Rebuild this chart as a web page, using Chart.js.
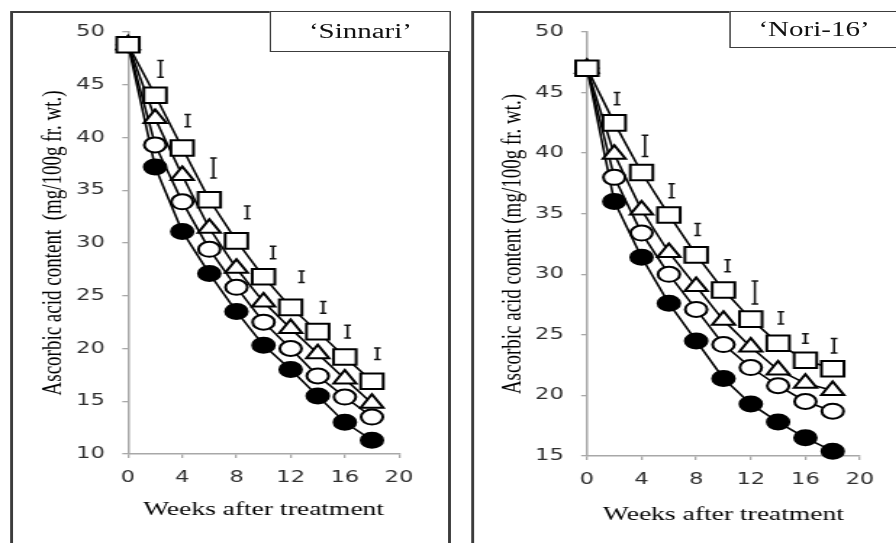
<!DOCTYPE html>
<html>
<head>
<meta charset="utf-8">
<script src="https://cdn.jsdelivr.net/npm/chart.js@4"></script>
<style>
  body { margin: 0; background: #fff; width: 896px; height: 543px; overflow: hidden; }
  #stage { position: absolute; left: 0; top: 0; width: 618px; height: 543px;
           transform: scaleX(1.45); transform-origin: 0 0; }
  .panel { position: absolute; top: 11px; height: 600px; border: 2px solid #3c3c3c; box-sizing: border-box; }
  .tag { position: absolute; top: 11px; border: 1.5px solid #3c3c3c; box-sizing: border-box; background: #fff;
         font: 20px "Liberation Serif", serif; color: #111; text-align: center; }
  canvas { position: absolute; top: 0; }
</style>
</head>
<body>
<div id="stage">
  <div class="panel" style="left:6.9px;width:304.1px"></div>
  <div class="panel" style="left:324.8px;width:400px"></div>
  <div class="tag" style="left:186.2px;width:124.8px;height:41px;line-height:39px">‘Sinnari’</div>
  <div class="tag" style="left:503.4px;width:116px;height:37px;line-height:35px">‘Nori-16’</div>
  <canvas id="left" width="318" height="543" style="left:0;width:318px;height:543px"></canvas>
  <canvas id="right" width="300" height="543" style="left:318px;width:300px;height:543px"></canvas>
</div>
<script>
// weeks after treatment
let weeks = [0, 2, 4, 6, 8, 10, 12, 14, 16, 18]
let xTicks = [0, 4, 8, 12, 16, 20]

// 'Sinnari'
let sinSquare   = [48.8, 44.0, 39.0, 34.1, 30.2, 26.8, 23.9, 21.6, 19.2, 16.9]
let sinTriangle = [48.8, 41.8, 36.4, 31.4, 27.6, 24.4, 21.9, 19.5, 17.1, 14.8]
let sinCircle   = [48.8, 39.3, 33.9, 29.4, 25.8, 22.5, 20.0, 17.4, 15.4, 13.5]
let sinFilled   = [48.8, 37.2, 31.1, 27.1, 23.5, 20.3, 18.0, 15.5, 13.0, 11.3]
let sinLsdX = [2.4, 4.4, 6.3, 8.8, 10.7, 12.8, 14.4, 16.2, 18.4]
let sinLsdY = [46.5, 41.6, 37.1, 32.9, 29.1, 26.8, 23.9, 21.6, 19.5]
let sinLsdH = [1.6, 1.15, 1.9, 1.2, 1.2, 1.1, 1.1, 1.2, 1.1]
let sinYTicks = [10, 15, 20, 25, 30, 35, 40, 45, 50]

// 'Nori-16'
let noriSquare   = [47.0, 42.5, 38.4, 34.9, 31.6, 28.7, 26.3, 24.3, 22.9, 22.2]
let noriTriangle = [47.0, 39.9, 35.3, 31.8, 29.0, 26.2, 24.0, 22.1, 21.0, 20.4]
let noriCircle   = [47.0, 38.0, 33.4, 30.0, 27.1, 24.2, 22.3, 20.8, 19.5, 18.7]
let noriFilled   = [47.0, 36.0, 31.4, 27.6, 24.5, 21.4, 19.3, 17.8, 16.5, 15.4]
let noriLsdX = [2.2, 4.25, 6.2, 8.1, 10.3, 12.3, 14.2, 16.0, 18.1]
let noriLsdY = [44.5, 40.6, 36.9, 33.7, 30.7, 28.5, 26.4, 24.7, 24.1]
let noriLsdH = [1.0, 1.75, 1.15, 1.0, 1.0, 1.9, 1.0, 0.8, 1.2]
let noriYTicks = [15, 20, 25, 30, 35, 40, 45, 50]

// LSD bars drawn as little serif "I"s
let lsdPlugin = {
  id: 'lsd',
  afterDatasetsDraw(chart, args, opts) {
    let ctx = chart.ctx, x = chart.scales.x, y = chart.scales.y
    ctx.save()
    ctx.strokeStyle = '#111'
    ctx.lineWidth = 1.5
    opts.xs.forEach((wk, i) => {
      let px = x.getPixelForValue(wk)
      let top = y.getPixelForValue(opts.ys[i] + opts.hs[i] / 2)
      let bot = y.getPixelForValue(opts.ys[i] - opts.hs[i] / 2)
      ctx.beginPath()
      ctx.moveTo(px, top); ctx.lineTo(px, bot)
      ctx.moveTo(px - 2.3, top); ctx.lineTo(px + 2.3, top)
      ctx.moveTo(px - 2.3, bot); ctx.lineTo(px + 2.3, bot)
      ctx.stroke()
    })
    ctx.restore()
  }
}

function series(vals, style, radius, fill) {
  return {
    data: weeks.map((w, i) => ({ x: w, y: vals[i] })),
    borderColor: '#000', borderWidth: 1.6, tension: 0, clip: false,
    pointStyle: style, pointRadius: radius,
    pointBackgroundColor: fill, pointBorderColor: '#000', pointBorderWidth: 2
  }
}

function makeChart(id, s, yTicks, lsd, o) {
  let axisGrid = { display: true, drawOnChartArea: false, drawTicks: true, tickLength: 4, color: '#a8a8a8', lineWidth: 1.3 }
  let tickFont = { family: 'DejaVu Sans', size: 15.5 }
  return new Chart(document.getElementById(id).getContext('2d'), {
    type: 'line',
    data: {
      datasets: [
        series(s[0], 'rect', 11, '#fff'),
        series(s[1], 'triangle', 9, '#fff'),
        series(s[2], 'circle', 7.5, '#fff'),
        series(s[3], 'circle', 7.5, '#000')
      ]
    },
    options: {
      responsive: false, animation: false, devicePixelRatio: 1,
      layout: { padding: { left: 0, right: o.padRight, top: 32, bottom: 0 } },
      plugins: { legend: { display: false }, tooltip: { enabled: false }, lsd: lsd },
      scales: {
        x: {
          type: 'linear', min: 0, max: 20,
          afterBuildTicks: sc => { sc.ticks = xTicks.map(v => ({ value: v })) },
          afterFit: sc => { sc.height = o.xHeight },
          ticks: { font: tickFont, color: '#2e2e2e', padding: 11, maxRotation: 0 },
          grid: axisGrid, border: { display: true, color: '#a8a8a8', width: 1.5 },
          title: { display: true, text: 'Weeks after treatment', color: '#000',
                   font: { family: 'Liberation Serif', size: 19 }, padding: { top: 0, bottom: o.xTitlePad } }
        },
        y: {
          min: yTicks[0], max: yTicks[yTicks.length - 1],
          afterBuildTicks: sc => { sc.ticks = yTicks.map(v => ({ value: v })) },
          afterFit: sc => { sc.width = o.yWidth },
          ticks: { font: tickFont, color: '#2e2e2e', padding: 12 },
          grid: axisGrid, border: { display: true, color: '#a8a8a8', width: 1.5 },
          title: { display: true, text: o.yTitle, color: '#000',
                   font: { family: 'Liberation Serif', size: 19 }, padding: { top: o.yTitlePad, bottom: 0 } }
        }
      }
    },
    plugins: [lsdPlugin]
  })
}

makeChart('left', [sinSquare, sinTriangle, sinCircle, sinFilled], sinYTicks,
  { xs: sinLsdX, ys: sinLsdY, hs: sinLsdH },
  { padRight: 42.8, xHeight: 89, yWidth: 88.3, xTitlePad: 21.6, yTitlePad: 25.8,
    yTitle: 'Ascorbic acid content  (mg/100g fr. wt.)' })

makeChart('right', [noriSquare, noriTriangle, noriCircle, noriFilled], noriYTicks,
  { xs: noriLsdX, ys: noriLsdY, hs: noriLsdH },
  { padRight: 24.9, xHeight: 87, yWidth: 86.8, xTitlePad: 16.6, yTitlePad: 24.4,
    yTitle: 'Ascorbic acid content (mg/100g fr. wt.)' })
</script>
</body>
</html>
